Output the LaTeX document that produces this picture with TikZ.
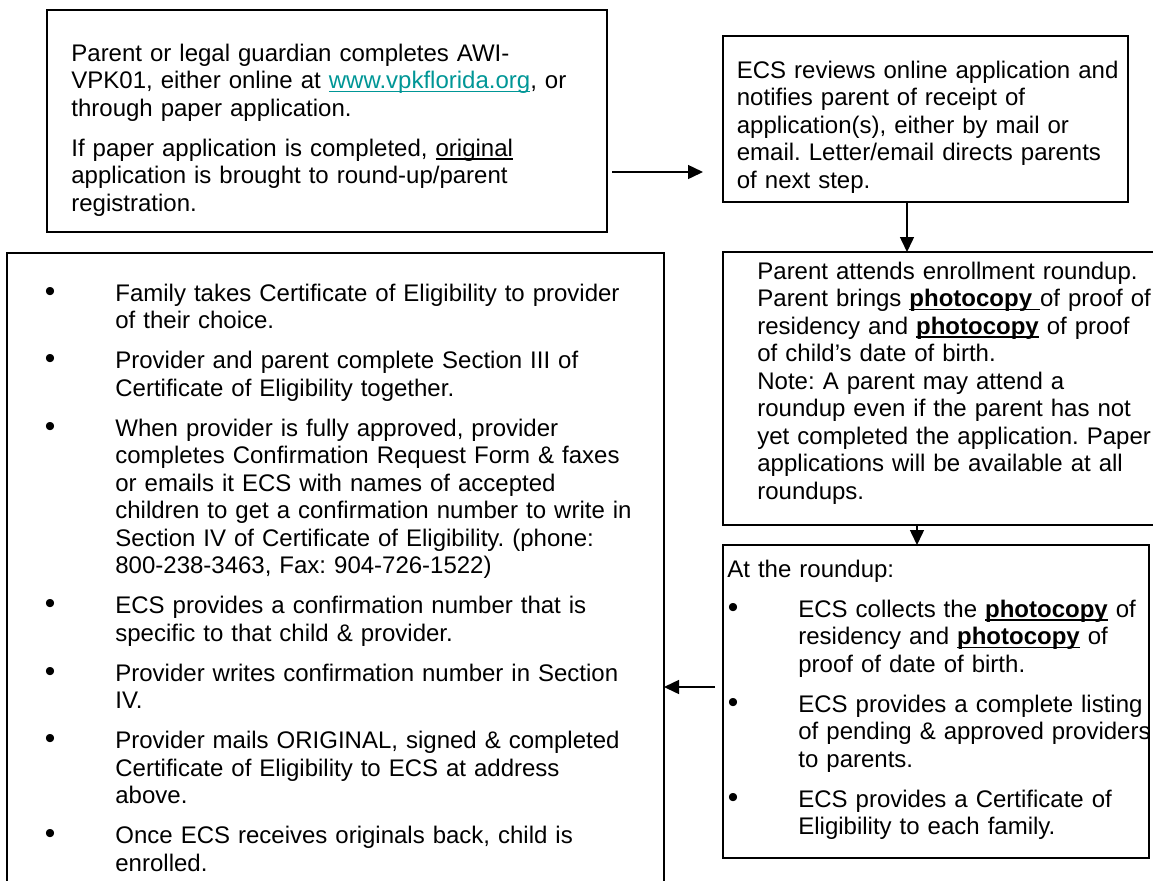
\documentclass[tikz,border=0pt]{standalone}
\usepackage{fontspec}
\setmainfont{Liberation Sans}
\usepackage{xcolor}
\usepackage{tikz}
\usetikzlibrary{positioning, calc, arrows.meta}
\definecolor{linkteal}{RGB}{0,150,150}
\newcommand{\ulin}[1]{\leavevmode\setbox0\hbox{#1}\rlap{\rule[-1.9pt]{\wd0}{0.8pt}}\box0}
\newcommand{\weblink}[1]{\textcolor{linkteal}{\ulin{#1}}}
\newcommand{\bul}{\leavevmode\llap{{\fontsize{15}{15}\selectfont\textbullet}\hspace{30pt}}}
\newcommand{\copyul}{\ulin{\textbf{photocopy}}}
\tikzset{
  stepbox/.style={draw, line width=1pt, anchor=north west, inner sep=0pt, outer sep=0pt},
  boxtext/.style={anchor=base west, inner sep=0pt, text width=300pt, align=left, font=\fontsize{12}{13.75}\selectfont\frenchspacing},
  flow/.style={line width=0.75pt, -{Triangle[length=7.5pt,width=7pt]}}
}

\begin{document}
\begin{tikzpicture}[x=0.5pt, y=-0.5pt]
				\useasboundingbox (0,0) rectangle (1153,880);
				
				\node[stepbox, minimum width=280pt, minimum height=111pt] (appl) at (47,10) {};
				\node[stepbox, minimum width=202.5pt, minimum height=83pt] (review) at (723,36) {};
				\node[stepbox, minimum width=221pt, minimum height=136.5pt] (attend) at (723,252) {};
				\node[stepbox, minimum width=213pt, minimum height=156.5pt] (roundup) at (723,545) {};
				\node[stepbox, minimum width=328.5pt, minimum height=323.5pt] (enrol) at (7,253) {};
				
				\node[boxtext] (applText) at (71,61) {\setlength{\parskip}{6.25pt}%
					Parent or legal guardian completes AWI-\\VPK01, either online at \weblink{www.vpkflorida.org}, or\\through paper application.\par
					If paper application is completed, \ulin{original}\\application is brought to round-up/parent\\registration.\par};
				
				\node[boxtext] (reviewText) at (736.5,78) {ECS reviews online application and\\notifies parent of receipt of\\application(s), either by mail or\\email. Letter/email directs parents\\of next step.};
				
				\node[boxtext] (attendText) at (757,279) {Parent attends enrollment roundup.\\Parent brings \ulin{\textbf{photocopy}\ }of proof of\\residency and \copyul{} of proof\\of child’s date of birth.\\Note: A parent may attend a\\roundup even if the parent has not\\yet completed the application. Paper\\applications will be available at all\\roundups.};
				
				\node[boxtext] (roundupText) at (727,577) {\setlength{\parskip}{6.25pt}%
					At the roundup:\par
					\setlength{\leftskip}{35.5pt}%
					\bul ECS collects the \copyul{} of\\residency and \copyul{} of\\proof of date of birth.\par
					\bul ECS provides a complete listing\\of pending \& approved providers\\to parents.\par
					\bul ECS provides a Certificate of\\Eligibility to each family.\par};
				
				\node[boxtext] (enrolText) at (115,301) {\setlength{\parskip}{6.25pt}%
					\bul Family takes Certificate of Eligibility to provider\\of their choice.\par
					\bul Provider and parent complete Section III of\\Certificate of Eligibility together.\par
					\bul When provider is fully approved, provider\\completes Confirmation Request Form \& faxes\\or emails it ECS with names of accepted\\children to get a confirmation number to write in\\Section IV of Certificate of Eligibility. (phone:\\800-238-3463, Fax: 904-726-1522)\par
					\bul ECS provides a confirmation number that is\\specific to that child \& provider.\par
					\bul Provider writes confirmation number in Section\\IV.\par
					\bul Provider mails ORIGINAL, signed \& completed\\Certificate of Eligibility to ECS at address\\above.\par
					\bul Once ECS receives originals back, child is\\enrolled.\par};
				
				\draw[flow, shorten <=2.5pt, shorten >=10pt] (appl.east |- 0,172) -- (review.west |- 0,172);
				\draw[flow] (review.south -| 907,0) -- (attend.north -| 907,0);
				\draw[flow] (attend.south -| 917,0) -- (roundup.north -| 917,0);
				\draw[flow, shorten <=4pt] (roundup.west |- 0,687) -- (enrol.east |- 0,687);
\end{tikzpicture}
\end{document}
